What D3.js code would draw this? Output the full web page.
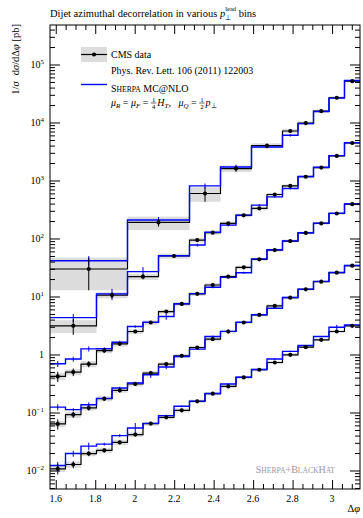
<!DOCTYPE html>
<html>
<head>
<meta charset="utf-8">
<script src="https://cdn.jsdelivr.net/npm/d3@7"></script>
<style>
  body { margin: 0; background: #fff; }
  svg { display: block; }
  svg text { font-family: "Liberation Serif", serif; white-space: pre; }
</style>
</head>
<body>
<script>
// Dijet azimuthal decorrelation, CMS data vs Sherpa MC@NLO

const W = 363, H = 518;
const frame = {x0: 50, x1: 360, y0: 25, y1: 489};

// bin edges, in units of pi/40 above pi/2
const edgesA = [0, 5, 9, 11, 13, 15, 16, 17, 18, 19, 20];
const edgesB = [0, 3, 5, 7, 9, 10, 11, 12, 13, 14, 15, 16, 17, 18, 19, 20];
const edgesFine = [0, 1, 2, 3, 4, 5, 6, 7, 8, 9, 10, 11, 12, 13, 14, 15, 16, 17, 18, 19, 20];

// top pT bin (scaled)
const dataA = [29.8, 189, 597, 1607, 3980, 7130, 9770, 15700, 26700, 51600];
const mcA   = [41.4, 209, 807, 1714, 3780, 6010, 9550, 15500, 26300, 53100];
const statA = [0.57, 0.15, 0.28, 0.12, 0.07, 0.06, 0.05, 0.04, 0.04, 0.03];
const sysA  = [0.57, 0.26, 0.28, 0.13, 0.10, 0.09, 0.07, 0.06, 0.06, 0.05];
const mcErrA = [0.2, 0.12, 0.1, 0.09, 0.05, 0.05, 0.04, 0.03, 0.03, 0.02];

const dataB = [3.12, 10.6, 22.0, 49.9, 94.0, 126, 182, 251, 330, 574, 807, 1160, 1670, 2650, 4430];
const mcB   = [4.33, 11.1, 26.8, 50.5, 77.1, 128, 170, 253, 376, 522, 728, 1170, 1690, 2680, 4470];
const statB = [0.30, 0.12, 0.10, 0.06, 0.06, 0.05, 0.05, 0.04, 0.04, 0.03, 0.03, 0.03, 0.03, 0.02, 0.02];
const sysB  = [0.25, 0.12, 0.12, 0.10, 0.09, 0.08, 0.08, 0.07, 0.07, 0.06, 0.06, 0.06, 0.05, 0.05, 0.05];
const mcErrB = [0.15, 0.22, 0.2, 0.06, 0.06, 0.05, 0.05, 0.04, 0.04, 0.04, 0.03, 0.03, 0.03, 0.02, 0.02];

const dataC = [0.419, 0.498, 0.684, 1.17, 1.53, 2.49, 3.56, 5.50, 7.45, 11.1, 15.8, 22.0, 31.8, 43.8, 63.1, 90.4, 125, 182, 270, 391];
const mcC   = [0.692, 0.834, 1.25, 1.26, 1.63, 3.03, 3.60, 4.51, 7.50, 11.2, 14.4, 21.4, 25.7, 44.5, 64.0, 91.0, 126, 184, 273, 395];
const statC = [0.2, 0.15, 0.12, 0.08, 0.07, 0.06, 0.05, 0.05, 0.04, 0.04, 0.03, 0.03, 0.03, 0.03, 0.02, 0.02, 0.02, 0.02, 0.02, 0.02];
const sysC  = [0.14, 0.12, 0.12, 0.1, 0.1, 0.09, 0.09, 0.08, 0.08, 0.08, 0.07, 0.07, 0.07, 0.06, 0.06, 0.06, 0.05, 0.05, 0.05, 0.05];
const mcErrC = [0.12, 0.1, 0.1, 0.06, 0.06, 0.05, 0.04, 0.12, 0.04, 0.04, 0.04, 0.03, 0.04, 0.03, 0.03, 0.02, 0.02, 0.02, 0.02, 0.02];

const dataD = [0.0635, 0.0918, 0.120, 0.173, 0.240, 0.310, 0.479, 0.684, 0.951, 1.32, 1.84, 2.49, 3.56, 4.82, 6.89, 9.55, 13.3, 18.0, 25.7, 34.0];
const mcD   = [0.124, 0.112, 0.136, 0.175, 0.264, 0.322, 0.448, 0.607, 0.925, 1.24, 2.04, 2.50, 3.60, 4.85, 6.28, 9.60, 13.4, 18.2, 26.0, 34.3];
const statD = [0.2, 0.12, 0.1, 0.08, 0.07, 0.06, 0.05, 0.05, 0.04, 0.04, 0.04, 0.03, 0.03, 0.03, 0.03, 0.02, 0.02, 0.02, 0.02, 0.02];
const sysD  = [0.12, 0.12, 0.1, 0.1, 0.09, 0.09, 0.08, 0.08, 0.08, 0.07, 0.07, 0.07, 0.06, 0.06, 0.06, 0.06, 0.05, 0.05, 0.05, 0.05];
const mcErrD = [0.12, 0.06, 0.1, 0.05, 0.05, 0.05, 0.12, 0.08, 0.04, 0.04, 0.04, 0.08, 0.03, 0.03, 0.03, 0.02, 0.02, 0.02, 0.02, 0.02];

// lowest pT bin
const dataE = [0.0107, 0.0127, 0.0196, 0.0223, 0.0305, 0.0416, 0.0643, 0.0826, 0.109, 0.156, 0.211, 0.282, 0.402, 0.546, 0.728, 0.989, 1.34, 1.79, 2.49, 3.12];
const mcE   = [0.0122, 0.0196, 0.0263, 0.0285, 0.0400, 0.0542, 0.0650, 0.0883, 0.128, 0.157, 0.213, 0.310, 0.405, 0.550, 0.834, 1.13, 1.43, 2.04, 2.95, 3.24];
const statE = [0.2, 0.14, 0.1, 0.08, 0.07, 0.06, 0.05, 0.05, 0.04, 0.04, 0.04, 0.03, 0.03, 0.03, 0.03, 0.03, 0.02, 0.02, 0.02, 0.02];
const sysE  = [0.12, 0.12, 0.1, 0.1, 0.1, 0.09, 0.08, 0.08, 0.08, 0.07, 0.07, 0.07, 0.06, 0.06, 0.06, 0.06, 0.05, 0.05, 0.05, 0.05];
const mcErrE = [0.15, 0.12, 0.15, 0.06, 0.06, 0.22, 0.05, 0.04, 0.04, 0.04, 0.04, 0.03, 0.03, 0.03, 0.03, 0.03, 0.02, 0.02, 0.1, 0.02];

const xMajor = [1.6, 1.8, 2.0, 2.2, 2.4, 2.6, 2.8, 3.0];
const xMajorLabels = ["1.6", "1.8", "2", "2.2", "2.4", "2.6", "2.8", "3"];
const xMinor = [1.65, 1.7, 1.75, 1.85, 1.9, 1.95, 2.05, 2.1, 2.15, 2.25, 2.3, 2.35, 2.45, 2.5, 2.55,
                2.65, 2.7, 2.75, 2.85, 2.9, 2.95, 3.05, 3.1];
const yDecades = [-2, -1, 0, 1, 2, 3, 4, 5];

const series = [
  {edges: edgesA, data: dataA, mc: mcA, stat: statA, sys: sysA, mcErr: mcErrA},
  {edges: edgesB, data: dataB, mc: mcB, stat: statB, sys: sysB, mcErr: mcErrB},
  {edges: edgesFine, data: dataC, mc: mcC, stat: statC, sys: sysC, mcErr: mcErrC},
  {edges: edgesFine, data: dataD, mc: mcD, stat: statD, sys: sysD, mcErr: mcErrD},
  {edges: edgesFine, data: dataE, mc: mcE, stat: statE, sys: sysE, mcErr: mcErrE}
];

const phi0 = Math.PI / 2, binW = Math.PI / 40;
const toPhi = u => phi0 + u * binW;

const x = d3.scaleLinear().domain([Math.PI / 2, Math.PI]).range([frame.x0, frame.x1]);
const y = d3.scaleLog().domain([Math.pow(10, -2.319), Math.pow(10, 5.681)]).range([frame.y1, frame.y0]);
const yMin = y.domain()[0];

const svg = d3.select("body").append("svg")
    .attr("width", W).attr("height", H);

svg.append("defs").append("clipPath").attr("id", "plot")
  .append("rect")
    .attr("x", frame.x0).attr("y", frame.y0)
    .attr("width", frame.x1 - frame.x0).attr("height", frame.y1 - frame.y0);

const plot = svg.append("g").attr("clip-path", "url(#plot)");

const binsOf = s => s.data.map((v, i) => ({
  lo: toPhi(s.edges[i]), hi: toPhi(s.edges[i + 1]),
  mid: toPhi((s.edges[i] + s.edges[i + 1]) / 2),
  v, mc: s.mc[i],
  st: s.stat[i] * v, sy: s.sys[i] * v, me: s.mcErr[i] * s.mc[i]
}));

const stepLine = d3.line().x(d => x(d[0])).y(d => y(d[1]));
const stepPts = (bins, key) => bins.flatMap(b => [[b.lo, b[key]], [b.hi, b[key]]]);

const allBins = series.map(binsOf);

// grey uncertainty bands
allBins.forEach(bins => {
  plot.append("g").selectAll("rect")
    .data(bins)
    .join("rect")
      .attr("x", d => x(d.lo))
      .attr("width", d => x(d.hi) - x(d.lo))
      .attr("y", d => y(d.v + d.sy))
      .attr("height", d => y(Math.max(d.v - d.sy, yMin)) - y(d.v + d.sy))
      .attr("fill", "#dcdcdc");
});

// data steps
allBins.forEach(bins => {
  plot.append("path")
    .attr("d", stepLine(stepPts(bins, "v")))
    .attr("fill", "none").attr("stroke", "#000").attr("stroke-width", 1.2);
});

// MC steps
allBins.forEach(bins => {
  plot.append("path")
    .attr("d", stepLine(stepPts(bins, "mc")))
    .attr("fill", "none").attr("stroke", "#0000ff").attr("stroke-width", 1.4);
  plot.append("g").selectAll("line")
    .data(bins)
    .join("line")
      .attr("x1", d => x(d.mid)).attr("x2", d => x(d.mid))
      .attr("y1", d => y(d.mc + d.me))
      .attr("y2", d => y(Math.max(d.mc - d.me, yMin)))
      .attr("stroke", "#0000ff").attr("stroke-width", 1);
});

// data points
allBins.forEach(bins => {
  const g = plot.append("g");
  g.selectAll("line")
    .data(bins)
    .join("line")
      .attr("x1", d => x(d.mid)).attr("x2", d => x(d.mid))
      .attr("y1", d => y(d.v + d.st))
      .attr("y2", d => y(Math.max(d.v - d.st, yMin)))
      .attr("stroke", "#000").attr("stroke-width", 1);
  g.selectAll("circle")
    .data(bins)
    .join("circle")
      .attr("cx", d => x(d.mid)).attr("cy", d => y(d.v))
      .attr("r", 2.1).attr("fill", "#000");
});

// frame + ticks
svg.append("rect")
  .attr("x", frame.x0).attr("y", frame.y0)
  .attr("width", frame.x1 - frame.x0).attr("height", frame.y1 - frame.y0)
  .attr("fill", "none").attr("stroke", "#000").attr("stroke-width", 1);

const yMinorVals = [];
yDecades.concat([-3]).forEach(k => {
  [2, 3, 4, 5, 6, 7, 8, 9].forEach(m => {
    const v = m * Math.pow(10, k);
    if (v > y.domain()[0] && v < y.domain()[1]) yMinorVals.push(v);
  });
});
const yMajorVals = yDecades.map(k => Math.pow(10, k));

function drawAxis(axis, tx, ty) {
  const g = svg.append("g").attr("transform", `translate(${tx},${ty})`).call(axis);
  g.select(".domain").remove();
  g.selectAll("text").remove();
  g.selectAll("line").attr("stroke", "#000").attr("stroke-width", 1);
}
drawAxis(d3.axisLeft(y).tickValues(yMajorVals).tickSize(-10), frame.x0, 0);
drawAxis(d3.axisLeft(y).tickValues(yMinorVals).tickSize(-5), frame.x0, 0);
drawAxis(d3.axisRight(y).tickValues(yMajorVals).tickSize(-10), frame.x1, 0);
drawAxis(d3.axisRight(y).tickValues(yMinorVals).tickSize(-5), frame.x1, 0);
drawAxis(d3.axisBottom(x).tickValues(xMajor).tickSize(-9), 0, frame.y1);
drawAxis(d3.axisBottom(x).tickValues(xMinor).tickSize(-5), 0, frame.y1);
drawAxis(d3.axisTop(x).tickValues(xMajor).tickSize(-9), 0, frame.y0);
drawAxis(d3.axisTop(x).tickValues(xMinor).tickSize(-5), 0, frame.y0);

// tick labels
svg.append("g").selectAll("text")
  .data(xMajor)
  .join("text")
    .attr("x", d => x(d)).attr("y", frame.y1 + 13)
    .attr("text-anchor", "middle")
    .style("font-size", "10px")
    .text((d, i) => xMajorLabels[i]);

const yl = svg.append("g").selectAll("text")
  .data(yDecades)
  .join("text")
    .attr("x", frame.x0 - 6).attr("y", d => y(Math.pow(10, d)) + 3.5)
    .attr("text-anchor", "end")
    .style("font-size", "10px");
yl.each(function(k) {
  const t = d3.select(this);
  if (k === 0) { t.text("1"); return; }
  t.append("tspan").text("10");
  t.append("tspan").attr("dy", -4).style("font-size", "7px")
    .text(k < 0 ? "\u2212" + (-k) : String(k));
});

// rich text helper: parts laid out left to right
function rich(parent, x0, y0, parts, base) {
  let cx = x0;
  parts.forEach(p => {
    if (p.gap) { cx += p.gap; return; }
    if (p.frac) {
      const fs = base * 0.68;
      const a = parent.append("text").attr("y", y0 - base * 0.42).style("font-size", fs + "px").text(p.frac[0]);
      const b = parent.append("text").attr("y", y0 + base * 0.3).style("font-size", fs + "px").text(p.frac[1]);
      const wa = a.node().getComputedTextLength(), wb = b.node().getComputedTextLength();
      const w = Math.max(wa, wb) + 2;
      a.attr("x", cx + (w - wa) / 2);
      b.attr("x", cx + (w - wb) / 2);
      parent.append("line")
        .attr("x1", cx).attr("x2", cx + w)
        .attr("y1", y0 - base * 0.3).attr("y2", y0 - base * 0.3)
        .attr("stroke", p.fill || "#000").attr("stroke-width", 0.6);
      cx += w + 1;
      return;
    }
    if (p.stack) {
      // superscript over subscript, sharing one horizontal slot
      const fs = base * 0.62;
      const a = parent.append("text").attr("x", cx).attr("y", y0 - base * 0.5)
        .style("font-size", fs + "px").text(p.stack[0]);
      const b = parent.append("text").attr("x", cx).attr("y", y0 + base * 0.3)
        .style("font-size", fs + "px").text(p.stack[1]);
      cx += Math.max(a.node().getComputedTextLength(), b.node().getComputedTextLength());
      return;
    }
    const t = parent.append("text").attr("x", cx).attr("y", y0 + (p.dy || 0))
      .style("font-size", (p.size || base) + "px")
      .style("font-style", p.it ? "italic" : null)
      .attr("fill", p.fill || "#000")
      .text(p.t);
    cx += t.node().getComputedTextLength();
  });
  return cx - x0;
}
const smallCaps = (word, base, fill) => [
  {t: word[0], fill},
  {t: word.slice(1).toUpperCase(), size: base * 0.76, fill}
];

// title
rich(svg.append("g"), 50, 16.5, [
  {t: "Dijet azimuthal decorrelation in various "},
  {t: "p", it: true},
  {stack: ["lead", "\u22a5"]},
  {t: " bins"}
], 10.5);

// y label (rotated, anchored at the top of the frame)
const ylab = svg.append("g").attr("transform", "translate(19,24) rotate(-90)");
const ylabParts = [
  {t: "1/"}, {t: "\u03c3", it: true}, {gap: 6},
  {t: "d"}, {t: "\u03c3", it: true}, {t: "/d\u0394"}, {t: "\u03c6", it: true}, {t: " [pb]"}
];
const ylabInner = ylab.append("g");
const ylw = rich(ylabInner, 0, 0, ylabParts, 10.5);
ylabInner.attr("transform", `translate(${-ylw},0)`);

// x label
const xlab = svg.append("g");
const xlw = rich(xlab, 0, 512, [{t: "\u0394"}, {t: "\u03c6", it: true}], 10.5);
xlab.attr("transform", `translate(${frame.x1 - xlw},0)`);

// legend
const leg = svg.append("g");
leg.append("rect").attr("x", 81).attr("y", 47).attr("width", 26).attr("height", 15).attr("fill", "#dcdcdc");
leg.append("line").attr("x1", 81).attr("x2", 107).attr("y1", 54.5).attr("y2", 54.5)
  .attr("stroke", "#000").attr("stroke-width", 1.2);
leg.append("circle").attr("cx", 94).attr("cy", 54.5).attr("r", 2.1).attr("fill", "#000");
rich(leg, 111, 58.3, [{t: "CMS data"}], 10);
rich(leg, 111, 74, [{t: "Phys. Rev. Lett. 106 (2011) 122003"}], 10);
leg.append("line").attr("x1", 81).attr("x2", 107).attr("y1", 84.5).attr("y2", 84.5)
  .attr("stroke", "#0000ff").attr("stroke-width", 1.4);
rich(leg, 111, 91.5, smallCaps("Sherpa", 10).concat([{t: " MC@NLO"}]), 10);
rich(leg, 111, 106, [
  {t: "\u03bc", it: true}, {t: "R", it: true, size: 7, dy: 2}, {t: " = "},
  {t: "\u03bc", it: true}, {t: "F", it: true, size: 7, dy: 2}, {t: " = "},
  {frac: ["1", "4"]}, {t: "H", it: true}, {t: "T", it: true, size: 7, dy: 2}, {t: ",   "},
  {t: "\u03bc", it: true}, {t: "Q", it: true, size: 7, dy: 2}, {t: " = "},
  {frac: ["1", "2"]}, {t: "p", it: true}, {t: "\u22a5", size: 7, dy: 2}
], 10);

// watermark
const wm = svg.append("g");
const wmParts = smallCaps("Sherpa", 10, "#999")
  .concat([{t: "+", fill: "#999"}])
  .concat(smallCaps("Black", 10, "#999"))
  .concat(smallCaps("Hat", 10, "#999"));
const wmw = rich(wm, 0, 473, wmParts, 10);
wm.attr("transform", `translate(${335 - wmw},0)`);
</script>
</body>
</html>
